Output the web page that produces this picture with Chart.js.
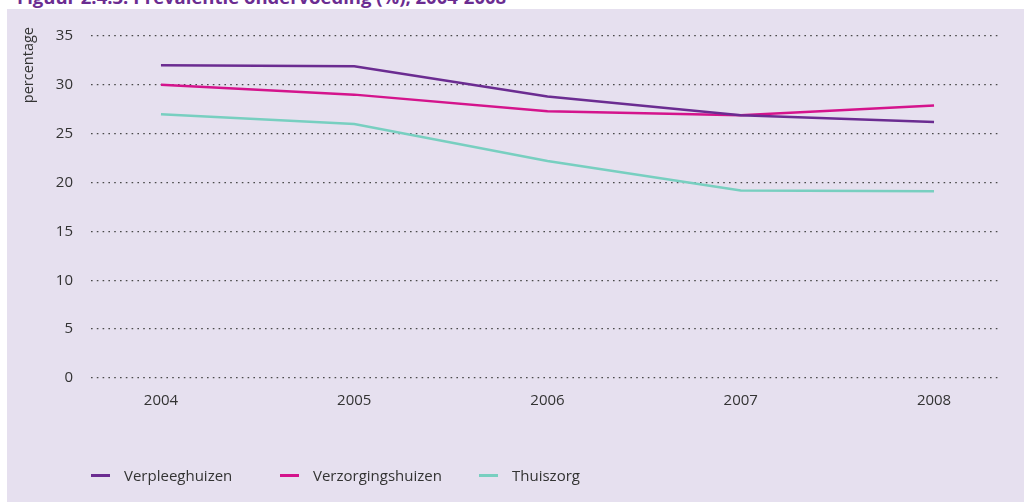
<!DOCTYPE html>
<html>
<head>
<meta charset="utf-8">
<script src="https://cdn.jsdelivr.net/npm/chart.js@4.4.1/dist/chart.umd.min.js"></script>
<style>
  html, body { margin: 0; padding: 0; background: #fff; width: 1024px; height: 502px; overflow: hidden; font-family: "Open Sans", sans-serif; }
  .title { position: absolute; left: 17px; top: -16px; font-size: 18.5px; font-weight: 700; color: #6b2c91; white-space: nowrap; }
  .panel { position: absolute; left: 7px; top: 9px; width: 1017px; height: 493px; background: #e6e0ef; }
  #chart { position: absolute; left: 0; top: 0; }
  .legend { position: absolute; top: 456px; left: 0; width: 100%; font-size: 15px; color: #333; }
  .legend .item { position: absolute; display: flex; align-items: center; }
  .legend .swatch { width: 19px; height: 3px; margin-right: 14px; }
</style>
</head>
<body>
<div class="title">Figuur 2.4.3: Prevalentie ondervoeding (%), 2004-2008</div>
<div class="panel">
  <canvas id="chart" width="1017" height="493"></canvas>
  <div class="legend" id="legend"></div>
</div>
<script>
  // data
  const years = [2004, 2005, 2006, 2007, 2008];
  const verpleeghuizen = [32.0, 31.9, 28.8, 26.9, 26.2];
  const verzorgingshuizen = [30.0, 29.0, 27.3, 26.9, 27.9];
  const thuiszorg = [27.0, 26.0, 22.2, 19.2, 19.1];
  const yTicks = [0, 5, 10, 15, 20, 25, 30, 35];

  const series = [
    { label: "Verpleeghuizen", values: verpleeghuizen, color: "#6b2c91" },
    { label: "Verzorgingshuizen", values: verzorgingshuizen, color: "#d4148c" },
    { label: "Thuiszorg", values: thuiszorg, color: "#78cfc0" }
  ];
  const legendX = [84, 273, 472];

  // y axis title sits at the top of the axis, not centred
  const yTitle = {
    id: "yTitle",
    afterDraw(c) {
      const ctx = c.ctx;
      ctx.save();
      ctx.translate(22, 18);
      ctx.rotate(-Math.PI / 2);
      ctx.font = "14.5px 'Open Sans'";
      ctx.fillStyle = "#333";
      ctx.textAlign = "right";
      ctx.textBaseline = "middle";
      ctx.fillText("percentage", 0, 0);
      ctx.restore();
    }
  };

  new Chart(document.getElementById("chart"), {
    type: "line",
    data: {
      datasets: series.map(s => ({
        label: s.label,
        data: years.map((y, i) => ({ x: y, y: s.values[i] })),
        borderColor: s.color,
        backgroundColor: s.color,
        borderWidth: 2.5,
        pointRadius: 0,
        tension: 0
      }))
    },
    options: {
      responsive: false,
      animation: false,
      layout: { padding: { top: 25, right: 26, left: 0, bottom: 0 } },
      plugins: { legend: { display: false }, tooltip: { enabled: false } },
      scales: {
        x: {
          type: "linear",
          min: 2003.638, max: 2008.331,
          grid: { display: false, drawTicks: false },
          border: { display: false },
          afterBuildTicks: sc => { sc.ticks = years.map(v => ({ value: v })); },
          afterFit: sc => { sc.height = 124; },
          ticks: { padding: 14, color: "#333", font: { family: "Open Sans", size: 15 }, callback: v => String(v) }
        },
        y: {
          min: 0, max: 35,
          afterBuildTicks: sc => { sc.ticks = yTicks.map(v => ({ value: v })); },
          afterFit: sc => { sc.width = 84; },
          grid: { color: "#4a4a4a", lineWidth: 1.3, drawTicks: false },
          border: { display: false, dash: [1.6, 4.2] },
          ticks: { padding: 18, color: "#333", font: { family: "Open Sans", size: 15 } }
        }
      }
    },
    plugins: [yTitle]
  });

  const legend = document.getElementById("legend");
  series.forEach((s, i) => {
    const item = document.createElement("div");
    item.className = "item";
    item.style.left = legendX[i] + "px";
    item.innerHTML = `<span class="swatch" style="background:${s.color}"></span><span>${s.label}</span>`;
    legend.appendChild(item);
  });
</script>
</body>
</html>
